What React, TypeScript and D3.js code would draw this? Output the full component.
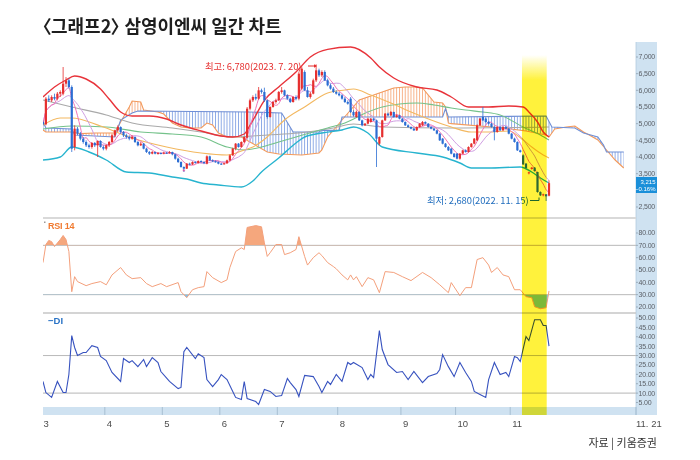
import * as d3 from "d3";
import React, { useRef, useEffect } from "react";

type Pt = [number, number];

// daily candles from 2023.3.2 : open, high, low, close (won)
const ohlc: number[][] = [
  [5050, 5100, 4950, 4980], [4980, 5800, 4950, 5750], [5750, 5850, 5650, 5700], [5700, 5850, 5650, 5800],
  [5800, 5900, 5700, 5750], [5750, 5950, 5700, 5900], [5900, 6000, 5800, 5950], [5900, 6700, 5850, 6200],
  [6200, 6400, 6100, 6300], [6300, 6350, 6050, 6100], [6100, 6150, 4150, 4250], [4300, 4950, 4200, 4850],
  [4850, 4900, 4650, 4700], [4700, 4750, 4500, 4550], [4550, 4600, 4400, 4450], [4450, 4500, 4300, 4350],
  [4350, 4400, 4250, 4300], [4300, 4450, 4250, 4420], [4420, 4450, 4300, 4350], [4350, 4500, 4000, 4480],
  [4480, 4500, 4280, 4300], [4300, 4350, 4200, 4250], [4250, 4380, 4200, 4350], [4350, 4480, 4300, 4450],
  [4450, 4680, 4420, 4650], [4650, 4820, 4600, 4800], [4800, 4950, 4750, 4900], [4900, 4920, 4700, 4750],
  [4750, 4780, 4600, 4650], [4650, 4700, 4550, 4600], [4600, 4650, 4500, 4550], [4550, 4650, 4520, 4600],
  [4600, 4620, 4420, 4450], [4450, 4480, 4320, 4350], [4350, 4450, 4330, 4400], [4400, 4420, 4230, 4250],
  [4250, 4280, 4120, 4150], [4150, 4180, 4060, 4100], [4100, 4180, 4080, 4150], [4150, 4160, 4080, 4100],
  [4100, 4150, 4070, 4120], [4120, 4140, 4080, 4100], [4100, 4160, 4080, 4130], [4130, 4150, 4090, 4110],
  [4110, 4180, 4100, 4150], [4150, 4160, 4050, 4080], [4080, 4100, 3920, 3950], [3950, 3980, 3820, 3850],
  [3850, 3870, 3680, 3700], [3700, 3720, 3550, 3650], [3650, 3820, 3640, 3800], [3800, 3830, 3750, 3780],
  [3780, 3870, 3760, 3850], [3850, 3870, 3800, 3820], [3820, 3900, 3800, 3880], [3880, 3900, 3830, 3850],
  [3850, 3870, 3790, 3820], [3800, 4050, 3780, 4020], [4020, 4040, 3880, 3900], [3900, 3930, 3850, 3870],
  [3870, 3900, 3830, 3850], [3850, 3870, 3780, 3800], [3800, 3820, 3760, 3780], [3780, 3830, 3770, 3810],
  [3810, 3920, 3800, 3900], [3900, 4080, 3880, 4050], [4050, 4280, 4030, 4250], [4250, 4420, 4200, 4400],
  [4400, 4420, 4280, 4300], [4300, 4470, 4280, 4450], [4450, 4620, 4420, 4600], [4580, 5500, 4560, 5450],
  [5450, 5750, 5400, 5700], [5700, 5850, 5650, 5800], [5800, 5900, 5700, 5750], [5750, 6100, 5720, 6000],
  [6000, 6050, 5900, 5950], [5950, 6080, 5650, 5700], [5700, 5720, 5150, 5200], [5200, 5520, 5180, 5500],
  [5500, 5680, 5480, 5650], [5650, 5750, 5600, 5700], [5700, 5980, 5680, 5950], [5950, 6100, 5900, 6000],
  [6000, 6020, 5820, 5850], [5850, 5880, 5720, 5750], [5750, 5780, 5620, 5650], [5650, 5820, 5630, 5800],
  [5800, 5850, 5700, 5750], [5750, 6550, 5700, 6500], [6050, 6720, 6000, 6650], [6550, 6600, 5980, 6000],
  [6000, 6100, 5780, 5800], [5800, 5950, 5750, 5900], [5900, 6350, 5880, 6300], [6300, 6780, 6250, 6600],
  [6600, 6650, 6400, 6450], [6450, 6600, 6400, 6550], [6550, 6600, 6280, 6300], [6300, 6350, 6120, 6150],
  [6150, 6200, 6020, 6050], [6050, 6100, 5920, 5950], [5950, 6000, 5870, 5900], [5900, 5950, 5820, 5850],
  [5850, 5880, 5720, 5750], [5750, 5800, 5620, 5650], [5650, 5700, 5570, 5600], [5750, 5800, 5320, 5350],
  [5350, 5400, 5220, 5250], [5200, 5380, 5180, 5350], [5350, 5370, 5080, 5100], [5100, 5120, 4920, 4950],
  [4950, 5020, 4930, 5000], [5000, 5180, 4980, 5150], [5050, 5170, 5030, 5150], [5150, 5180, 5080, 5100],
  [5100, 5120, 3700, 4550], [4400, 4620, 4350, 4600], [4600, 5120, 4580, 5100], [5100, 5320, 5080, 5300],
  [5300, 5330, 5230, 5250], [5250, 5380, 5230, 5350], [5350, 5360, 5180, 5200], [5200, 5280, 5180, 5250],
  [5250, 5270, 5130, 5150], [5150, 5170, 5030, 5050], [5050, 5070, 4930, 4950], [4950, 4980, 4880, 4900],
  [4900, 4920, 4830, 4850], [4850, 4870, 4780, 4800], [4800, 4920, 4780, 4900], [4900, 5020, 4880, 5000],
  [4950, 5080, 4930, 5050], [5050, 5070, 4980, 5000], [5000, 5020, 4880, 4900], [4900, 4920, 4830, 4850],
  [4850, 4870, 4780, 4800], [4800, 4820, 4680, 4700], [4700, 4720, 4480, 4500], [4550, 4570, 4380, 4400],
  [4400, 4420, 4280, 4300], [4300, 4330, 4180, 4200], [4250, 4270, 4080, 4100], [4100, 4120, 3980, 4000],
  [4100, 4120, 3930, 3950], [3950, 4120, 3920, 4100], [4100, 4220, 4080, 4200], [4200, 4230, 4130, 4150],
  [4150, 4320, 4130, 4300], [4300, 4420, 4280, 4400], [4400, 4570, 4380, 4550], [4500, 4980, 4480, 4950],
  [4950, 5170, 4930, 5150], [5200, 5500, 5080, 5100], [5150, 5180, 5030, 5050], [5050, 5080, 4980, 5000],
  [5000, 5020, 4880, 4900], [4900, 4920, 4500, 4750], [4750, 4920, 4730, 4900], [4900, 4920, 4780, 4800],
  [4800, 4920, 4780, 4900], [4900, 4930, 4830, 4850], [4850, 4870, 4680, 4700], [4700, 4720, 4530, 4550],
  [4550, 4580, 4430, 4450], [4450, 4470, 4180, 4200], [4200, 4220, 4130, 4150], [4050, 4080, 3760, 3780],
  [3800, 3820, 3650, 3670], [3520, 3560, 3480, 3540], [3640, 3700, 3620, 3680], [3680, 3700, 3560, 3580],
  [3550, 3560, 2930, 2950], [2950, 2970, 2830, 2850], [2870, 2900, 2820, 2880], [2880, 2890, 2680, 2820],
  [2840, 3300, 2820, 3215],
];

// [day index, price]
const bbUpper: Pt[] = [
  [0, 5800], [4, 6100], [8, 6310], [11, 6430], [15, 6340], [20, 6040], [23, 5740], [27, 5350], [31, 5230],
  [37, 5230], [43, 5140], [48, 4960], [55, 4780], [62, 4630], [66, 4600], [70, 4690], [72, 4950], [74, 5250],
  [77, 5700], [82, 6100], [88, 6550], [93, 7000], [99, 7230], [107, 7300], [114, 6970], [117, 6700],
  [122, 6370], [130, 6100], [137, 6010], [142, 5800], [148, 5500], [155, 5500], [162, 5530], [167, 5500],
  [169, 5350], [172, 5050], [174, 4750], [176, 4600],
];
const bbMiddle: Pt[] = [
  [0, 4960], [6, 5170], [10, 5170], [20, 4930], [31, 4570], [43, 4300], [55, 4120], [64, 4060], [70, 4210],
  [73, 4300], [78, 4600], [84, 5110], [91, 5500], [99, 5920], [105, 6010], [108, 6040], [114, 5860],
  [121, 5620], [128, 5350], [135, 5110], [142, 4900], [149, 4750], [155, 4750], [162, 4780], [167, 4510],
  [170, 4300], [174, 4060], [176, 3970],
];
const bbLower: Pt[] = [
  [0, 3910], [6, 4000], [10, 4300], [16, 4150], [22, 3910], [29, 3550], [37, 3520], [45, 3400], [50, 3340],
  [55, 3220], [61, 3160], [69, 3100], [73, 3280], [76, 3550], [82, 3970], [88, 4420], [91, 4600], [97, 4720],
  [104, 4810], [108, 4900], [113, 4720], [118, 4300], [130, 4120], [139, 4000], [145, 3820], [149, 3670],
  [155, 3670], [166, 3700], [170, 3550], [173, 3370], [176, 3220],
];
const ma60: Pt[] = [
  [0, 4840], [10, 4930], [22, 4900], [34, 4750], [45, 4690], [55, 4600], [64, 4300], [70, 4210], [76, 4300],
  [82, 4450], [88, 4600], [94, 4750], [99, 4870], [105, 5020], [113, 5350], [118, 5500], [124, 5590],
  [130, 5620], [136, 5560], [142, 5470], [147, 5410], [153, 5350], [159, 5260], [167, 4900], [173, 4660],
  [176, 4510],
];
const ma120: Pt[] = [
  [0, 5710], [10, 5500], [22, 5260], [31, 5020], [45, 4870], [55, 4750], [66, 4600], [78, 4660], [89, 4720],
  [101, 4870], [108, 4990], [118, 4900], [142, 4870], [176, 4900],
];
// ichimoku leading spans (run 26 days past the last candle)
const spanA: Pt[] = [
  [0, 4810], [1, 4750], [10, 4750], [13, 4700], [18, 4720], [25, 4720], [27, 5050], [30, 5500], [31, 5680],
  [34, 5650], [35, 5410], [40, 5350], [42, 5290], [43, 5200], [45, 5020], [48, 4900], [51, 4870], [55, 4870],
  [57, 5020], [59, 4960], [61, 4720], [64, 4600], [69, 4600], [72, 4450], [78, 4150], [82, 4090], [90, 4060],
  [96, 4120], [97, 4210], [99, 4600], [102, 4900], [104, 5110], [107, 5410], [110, 5710], [113, 5800],
  [118, 5950], [122, 6070], [126, 6100], [130, 6100], [132, 6070], [136, 5650], [139, 5620], [140, 5500],
  [141, 5020], [142, 5000], [160, 4870], [168, 4780], [175, 4660], [176, 4600], [178, 4840], [182, 4900],
  [185, 4930], [188, 4750], [190, 4660], [193, 4510], [196, 4210], [199, 3910], [202, 3670],
];
const spanB: Pt[] = [
  [0, 5050], [1, 4870], [10, 4840], [11, 4660], [25, 4600], [27, 5110], [31, 5320], [33, 5380], [72, 5350],
  [83, 5320], [87, 4750], [96, 4750], [97, 4800], [103, 4800], [104, 5200], [139, 5200], [140, 5450],
  [141, 5200], [175, 5230], [177, 4900], [185, 4870], [188, 4720], [193, 4600], [195, 4350], [196, 4150],
  [202, 4150],
];
const rsi14: Pt[] = [
  [0, 56], [1, 70.6], [2, 74], [3, 73], [4, 69], [6, 74.7], [7, 78], [8, 74.7], [9, 65], [10, 32.4], [11, 44.6],
  [12, 40.6], [15, 37.3], [17, 39], [20, 40.6], [22, 38], [24, 46], [27, 52], [29, 46], [31, 43], [34, 43.8],
  [36, 39], [38, 36.5], [41, 39], [43, 36.5], [47, 39.8], [48, 32.4], [50, 27.6], [52, 34], [54, 35.7],
  [56, 36.5], [57, 48.7], [59, 43.8], [62, 39.8], [64, 42], [65, 52], [67, 65], [69, 68], [70, 66.6],
  [71, 84.5], [74, 86], [76, 85], [77, 72], [78, 61], [79, 64], [81, 70.6], [83, 70.6], [84, 62.5], [86, 64],
  [88, 66.6], [89, 77], [91, 61], [92, 54], [94, 60], [96, 64], [97, 61.7], [99, 56], [101, 52.8], [102, 51],
  [104, 46], [106, 42], [107, 46], [108, 42], [109, 44.6], [111, 36.5], [113, 43.8], [115, 42], [117, 31.6],
  [119, 48.7], [122, 48], [125, 44.6], [128, 41.4], [132, 48], [135, 43.8], [138, 38], [141, 31.6],
  [142, 39.8], [145, 29.2], [147, 35.7], [149, 35.7], [151, 58.5], [153, 60], [155, 54], [156, 48], [158, 52],
  [160, 46], [162, 44.6], [164, 34], [166, 34], [168, 28.4], [170, 27.6], [171, 20.2], [173, 18.6],
  [175, 19.4], [176, 33],
];
const minusDi: Pt[] = [
  [0, 16.2], [1, 10.3], [3, 7.7], [5, 16.2], [7, 10.3], [8, 10.3], [9, 19.9], [10, 40.6], [11, 34.3], [12, 30],
  [14, 31.6], [15, 31.6], [17, 35.3], [19, 34.3], [20, 29.5], [22, 27.3], [24, 21], [27, 16.2], [28, 28.4],
  [30, 26.3], [31, 27.3], [33, 24.1], [35, 27.9], [36, 24.1], [38, 28.9], [40, 26.3], [41, 21.5], [44, 16.2],
  [47, 12.4], [48, 13], [49, 32.1], [50, 34.3], [53, 28.4], [54, 31], [56, 28.9], [57, 17.2], [59, 13.5],
  [61, 17.2], [62, 19.9], [64, 17.2], [66, 10.9], [67, 7.7], [69, 6.6], [70, 16.2], [71, 7.1], [74, 5.5],
  [75, 3.9], [77, 11.9], [79, 10.9], [81, 8.2], [83, 8.7], [85, 17.8], [86, 15.6], [88, 11.9], [89, 8.2],
  [91, 19.4], [94, 18.8], [96, 13.5], [97, 10.3], [99, 16.2], [100, 14.6], [102, 19.9], [104, 16.2],
  [106, 26.3], [107, 25.2], [108, 26.3], [111, 23.6], [113, 17.2], [114, 19.9], [115, 18.3], [117, 43.3],
  [118, 33.2], [120, 25.2], [123, 21], [125, 21.5], [127, 17.2], [129, 21.5], [132, 15.6], [134, 18.8],
  [137, 20.4], [138, 22.6], [139, 30.5], [141, 24.1], [143, 18.8], [145, 26.3], [147, 21], [149, 16.2],
  [150, 10.9], [152, 9.3], [154, 7.7], [155, 17.2], [157, 26.3], [159, 19.9], [161, 21], [162, 18.8],
  [164, 29.5], [165, 28.9], [166, 26.8], [168, 40.1], [169, 38], [171, 49.1], [173, 49.1], [174, 46],
  [175, 46], [176, 35],
];

const monthTicks = [0, 22, 42, 62, 82, 103, 125, 144, 163];
const monthLabels = ["3", "4", "5", "6", "7", "8", "9", "10", "11"];
const lastDateLabel = "11. 21";
// 3,000 sits under the last-price box in the original, so it is not listed
const priceTicks = [7000, 6500, 6000, 5500, 5000, 4500, 4000, 3500, 2500];
const rsiTicks = [80, 70, 60, 50, 40, 30, 20];
const diTicks = [50, 45, 40, 35, 30, 25, 20, 15, 10, 5];
const highNote = "최고: 6,780(2023. 7. 20)";
const lowNote = "최저: 2,680(2022. 11. 15)";
const lastPrice = "3,215";
const lastChange = "−0.16%";

const NUM_FONT = "'Liberation Sans Narrow', 'Liberation Sans', Arial, sans-serif";
const AXIS_FONT = "'Liberation Sans', Arial, sans-serif";
const KR_FONT = "'Noto Sans CJK KR', 'Noto Sans', sans-serif";

const App: React.FC = () => {
  const svgRef = useRef<SVGSVGElement | null>(null);

  useEffect(() => {
    const svg = d3.select(svgRef.current);
    svg.selectAll("*").remove();

    const left = 43, right = 636, stripR = 657;
    const mainTop = 42, mainBot = 218, rsiTop = 219, rsiBot = 313, diTop = 314, diBot = 407, axisBot = 415;

    const x = d3.scaleLinear().domain([0, 176]).range([43, 549]);
    const step = x(1) - x(0);
    const yP = d3.scaleLinear().domain([2500, 7000]).range([207, 57]);
    const yR = d3.scaleLinear().domain([20, 80]).range([307, 233]);
    const yD = d3.scaleLinear().domain([5, 50]).range([402.5, 318]);

    svg.append("rect").attr("width", 700).attr("height", 460).attr("fill", "#fff");

    const defs = svg.append("defs");
    const clip = (id: string, y0: number, y1: number) =>
      defs.append("clipPath").attr("id", id).append("rect")
        .attr("x", left).attr("y", y0).attr("width", right - left).attr("height", y1 - y0);
    clip("clipMain", mainTop, mainBot);
    clip("clipRsi", rsiTop, rsiBot);
    clip("clipDi", diTop, diBot);
    clip("clipOver70", rsiTop, yR(70));
    clip("clipUnder30", yR(30), rsiBot);

    const hatch = (id: string, color: string) =>
      defs.append("pattern").attr("id", id).attr("patternUnits", "userSpaceOnUse")
        .attr("x", left - 0.5).attr("y", 0).attr("width", step).attr("height", 8)
        .append("line").attr("x1", 0.5).attr("x2", 0.5).attr("y1", 0).attr("y2", 8)
        .attr("stroke", color).attr("stroke-width", 0.9);
    hatch("hatchBlue", "#7f9fe3");
    hatch("hatchOrange", "#f6a77a");

    const toXY = (pts: Pt[], ys: d3.ScaleLinear<number, number>) => pts.map(d => [x(d[0]), ys(d[1])] as Pt);
    const poly = (pts: Pt[]) => "M" + pts.map(p => p.join(",")).join("L") + "Z";
    const ptsA = toXY(spanA, yP);
    const ptsB = toXY(spanB, yP);
    const xEnd = x(202);
    defs.append("clipPath").attr("id", "aboveA").append("path")
      .attr("d", poly([...ptsA, [xEnd, 0], [x(0), 0]]));
    defs.append("clipPath").attr("id", "aboveB").append("path")
      .attr("d", poly([...ptsB, [xEnd, 0], [x(0), 0]]));

    const grad = defs.append("linearGradient").attr("id", "yellowFade")
      .attr("gradientUnits", "userSpaceOnUse").attr("x1", 0).attr("x2", 0).attr("y1", 55).attr("y2", 80);
    grad.append("stop").attr("offset", 0).attr("stop-color", "#fff23c").attr("stop-opacity", 0);
    grad.append("stop").attr("offset", 1).attr("stop-color", "#fff23c").attr("stop-opacity", 1);

    // axis strips
    svg.append("rect").attr("x", right).attr("y", mainTop).attr("width", stripR - right)
      .attr("height", axisBot - mainTop).attr("fill", "#cfe2f1");
    svg.append("rect").attr("x", left).attr("y", diBot).attr("width", stripR - left)
      .attr("height", axisBot - diBot).attr("fill", "#cfe2f1");
    svg.append("line").attr("x1", right).attr("x2", right).attr("y1", mainTop).attr("y2", axisBot)
      .attr("stroke", "#b3cbe0").attr("stroke-width", 0.8);

    // panel separators and grid lines
    const hline = (y: number, color: string, w: number) =>
      svg.append("line").attr("x1", left).attr("x2", right).attr("y1", y).attr("y2", y)
        .attr("stroke", color).attr("stroke-width", w);
    hline(mainBot, "#d9d9d9", 2);
    hline(rsiBot, "#c6c6c6", 1.4);
    hline(yR(70), "#b9b9b9", 1);
    hline(yR(30), "#b9b9b9", 1);
    hline(yD(30), "#b9b9b9", 1);
    hline(yD(10), "#c4c4c4", 1.4);

    // ---------- price panel ----------
    const main = svg.append("g").attr("clip-path", "url(#clipMain)");
    const region = poly([...ptsA, ...ptsB.slice().reverse()]);
    main.append("path").attr("d", region).attr("fill", "url(#hatchBlue)").attr("clip-path", "url(#aboveA)");
    main.append("path").attr("d", region).attr("fill", "url(#hatchOrange)").attr("clip-path", "url(#aboveB)");

    const smooth = d3.line<Pt>().x(d => x(d[0])).y(d => yP(d[1])).curve(d3.curveMonotoneX);
    const straight = d3.line<Pt>().x(d => x(d[0])).y(d => yP(d[1]));
    const drawLine = (pts: Pt[], gen: d3.Line<Pt>, color: string, w: number) =>
      main.append("path").attr("d", gen(pts)).attr("fill", "none").attr("stroke", color).attr("stroke-width", w);

    drawLine(spanA, straight, "#f39a5c", 1.1);
    drawLine(spanB, straight, "#6f8fd6", 1.1);
    drawLine(ma120, smooth, "#a9a9a9", 1.1);
    drawLine(ma60, smooth, "#74c28a", 1.1);
    drawLine(bbMiddle, smooth, "#f3b860", 1.1);
    drawLine(bbLower, smooth, "#27b4cf", 1.4);
    drawLine(bbUpper, smooth, "#e8333a", 1.4);

    const closes = ohlc.map(d => d[3]);
    const movingAvg = (n: number): Pt[] =>
      closes.map((_, i) => [i, d3.mean(closes.slice(Math.max(0, i - n + 1), i + 1)) as number]);
    drawLine(movingAvg(10), smooth, "#cf9ee2", 1);
    drawLine(movingAvg(5), smooth, "#ef72b6", 1);

    const candles = main.append("g");
    ohlc.forEach(([o, h, l, c], i) => {
      const color = c >= o ? "#e62f2f" : "#2b6dd3";
      candles.append("line").attr("x1", x(i)).attr("x2", x(i)).attr("y1", yP(h)).attr("y2", yP(l))
        .attr("stroke", color).attr("stroke-width", 0.8);
      candles.append("rect").attr("x", x(i) - 1.1).attr("width", 2.2)
        .attr("y", yP(Math.max(o, c))).attr("height", Math.max(1, Math.abs(yP(o) - yP(c))))
        .attr("fill", color);
    });
    main.append("text").attr("x", x(49)).attr("y", yP(3480)).attr("text-anchor", "middle")
      .attr("font-size", 8).attr("fill", "#e2449d").attr("font-family", NUM_FONT).text("*");

    // notes
    svg.append("text").attr("x", 205).attr("y", 69.5).attr("font-size", 9.4).attr("letter-spacing", -0.05)
      .attr("font-family", KR_FONT).attr("fill", "#e52d2d").text(highNote);
    svg.append("line").attr("x1", 308).attr("x2", 316).attr("y1", 66).attr("y2", 66)
      .attr("stroke", "#e52d2d").attr("stroke-width", 1);
    svg.append("path").attr("d", "M317,66L314,64.3L314,67.7Z").attr("fill", "#e52d2d");

    svg.append("text").attr("x", 427).attr("y", 204).attr("font-size", 9.4).attr("letter-spacing", -0.05)
      .attr("font-family", KR_FONT).attr("fill", "#1f6cbd").text(lowNote);
    svg.append("path").attr("d", "M530,200.5H539V197.5").attr("fill", "none")
      .attr("stroke", "#1f6cbd").attr("stroke-width", 1);

    // ---------- RSI panel ----------
    const rsiG = svg.append("g").attr("clip-path", "url(#clipRsi)");
    const rsiArea = (base: number) => d3.area<Pt>().x(d => x(d[0])).y0(yR(base)).y1(d => yR(d[1]));
    rsiG.append("g").attr("clip-path", "url(#clipOver70)").append("path")
      .attr("d", rsiArea(70)(rsi14)).attr("fill", "#f5a77d");
    rsiG.append("g").attr("clip-path", "url(#clipUnder30)").append("path")
      .attr("d", rsiArea(30)(rsi14)).attr("fill", "#7cc3ee");
    rsiG.append("path").attr("d", d3.line<Pt>().x(d => x(d[0])).y(d => yR(d[1]))(rsi14))
      .attr("fill", "none").attr("stroke", "#f4a07c").attr("stroke-width", 1);
    svg.append("rect").attr("x", 44).attr("y", 221.5).attr("width", 1.5).attr("height", 1.5).attr("fill", "#999");
    svg.append("text").attr("x", 48).attr("y", 228.5).attr("font-size", 9).attr("font-family", AXIS_FONT)
      .attr("font-weight", "bold").attr("letter-spacing", -0.2).attr("fill", "#f07a30").text("RSI 14");

    // ---------- -DI panel ----------
    const diG = svg.append("g").attr("clip-path", "url(#clipDi)");
    diG.append("path").attr("d", d3.line<Pt>().x(d => x(d[0])).y(d => yD(d[1]))(minusDi))
      .attr("fill", "none").attr("stroke", "#3752bf").attr("stroke-width", 1.1);
    svg.append("text").attr("x", 48).attr("y", 323.5).attr("font-size", 9.5).attr("font-family", AXIS_FONT)
      .attr("font-weight", "bold").attr("fill", "#2a73c6").text("−DI");

    // ---------- right axis ----------
    const tickLabel = (y: number, label: string) => {
      svg.append("line").attr("x1", right).attr("x2", right + 2).attr("y1", y).attr("y2", y)
        .attr("stroke", "#7d8e9c").attr("stroke-width", 0.6);
      svg.append("text").attr("x", right + 2.5).attr("y", y).attr("dy", "0.35em").attr("font-size", 7)
        .attr("font-family", AXIS_FONT).attr("letter-spacing", -0.2)
        .attr("fill", "#5a5f66").text(label);
    };
    priceTicks.forEach(v => tickLabel(yP(v), d3.format(",")(v)));
    rsiTicks.forEach(v => tickLabel(yR(v), v.toFixed(2)));
    diTicks.forEach(v => tickLabel(yD(v), v.toFixed(2)));

    // ---------- bottom axis ----------
    monthTicks.forEach((d, k) => {
      const tx = x(d) - step / 2;
      if (k > 0) {
        svg.append("line").attr("x1", tx).attr("x2", tx).attr("y1", diBot).attr("y2", axisBot)
          .attr("stroke", "#9db6ca").attr("stroke-width", 0.8);
      }
      svg.append("text").attr("x", tx + 2).attr("y", 427).attr("font-size", 9.5)
        .attr("font-family", NUM_FONT).attr("fill", "#4d4d4d").text(monthLabels[k]);
    });
    svg.append("line").attr("x1", right).attr("x2", right).attr("y1", diBot).attr("y2", axisBot)
      .attr("stroke", "#9db6ca").attr("stroke-width", 0.8);
    svg.append("text").attr("x", right).attr("y", 427).attr("font-size", 9.5)
      .attr("font-family", NUM_FONT).attr("fill", "#4d4d4d").text(lastDateLabel);

    // highlight band (multiplied over the panels)
    const bx0 = x(168) - step * 1.4, bx1 = x(175) + step * 0.2;
    svg.append("rect").attr("x", bx0).attr("y", 55).attr("width", bx1 - bx0).attr("height", axisBot - 55)
      .attr("fill", "url(#yellowFade)").style("mix-blend-mode", "multiply");

    // last price box
    svg.append("rect").attr("x", right).attr("y", 177).attr("width", stripR - right).attr("height", 16)
      .attr("fill", "#1a8fd9");
    svg.append("text").attr("x", stripR - 1.5).attr("y", 183.8).attr("text-anchor", "end").attr("font-size", 6)
      .attr("font-family", AXIS_FONT).attr("fill", "#fff").text(lastPrice);
    svg.append("text").attr("x", stripR - 1.5).attr("y", 191).attr("text-anchor", "end").attr("font-size", 6)
      .attr("font-family", AXIS_FONT).attr("fill", "#fff").text(lastChange);

    // title and source
    svg.append("text").attr("x", 42).attr("y", 33).attr("font-size", 18).attr("font-weight", "bold")
      .attr("letter-spacing", 0).style("font-feature-settings", "'palt'")
      .attr("font-family", KR_FONT).attr("fill", "#1e1e1e").text("〈그래프2〉 삼영이엔씨 일간 차트");
    svg.append("text").attr("x", stripR).attr("y", 447).attr("text-anchor", "end").attr("font-size", 11)
      .attr("font-family", KR_FONT).attr("fill", "#333").text("자료 | 키움증권");
  }, []);

  return <svg ref={svgRef} width={700} height={460} style={{ position: "absolute", left: 0, top: 0 }} />;
};

export default App;
